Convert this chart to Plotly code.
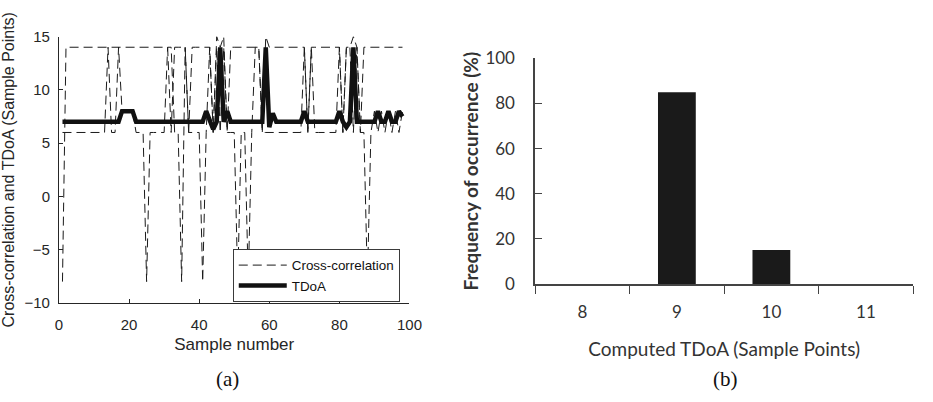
import plotly.graph_objects as go

# ---------------- data: panel (a) ----------------
samples = list(range(1, 99))

tdoa = [
    7, 7, 7, 7, 7, 7, 7, 7, 7, 7,
    7, 7, 7, 7, 7, 7, 7, 8, 8, 8,
    8, 7, 7, 7, 7, 7, 7, 7, 7, 7,
    7, 7, 7, 7, 7, 7, 7, 7, 7, 7,
    7, 8, 7, 6.3, 7, 14, 7, 8, 7, 7,
    7, 7, 7, 7, 7, 7, 7, 7, 14, 6.5,
    7.8, 7, 7, 7, 7, 7, 7, 7, 7, 8,
    7, 7, 7, 7, 7, 7, 7, 7, 7, 8,
    7, 6.5, 7, 14, 7, 7, 7, 7, 7, 7,
    8, 7, 7, 8, 7, 7, 8, 7.5,
]

cc_upper = [
    -8, 14, 14, 14, 14, 14, 14, 14, 14, 14,
    14, 14, 14, 14, 14, 14, 14, 14, 14, 14,
    14, 14, 14, 14, 14, 14, 14, 14, 14, 14,
    14, 6, 14, 14, 14, 14, 6, 14, 14, 14,
    14, 14, 14, 6, 15, 14, 15, 6, 14, 14,
    14, 14, 14, 14, 14, 14, 14, 6, 15, 14,
    14, 14, 14, 14, 14, 14, 14, 14, 14, 14,
    6, 14, 14, 14, 14, 14, 14, 14, 14, 14,
    6, 14, 14, 15, 14, 6, 14, 14, 14, 14,
    14, 14, 14, 14, 14, 14, 14, 14,
]

cc_lower = [
    6, 6, 6, 6, 6, 6, 6, 6, 6, 6,
    6, 6, 6, 14, 6, 6, 14, 8, 8, 8,
    8, 6, 6, 6, -8, 6, 6, 6, 6, 6,
    14, 14, 6, 6, -8, 14, 6, 6, 6, 6,
    -8, 6, 14, 6, 14, 6, 14, 6, 6, 6,
    -8, 6, 6, -8, 6, 14, 14, 6, 6, 6,
    6, 6, 6, 6, 6, 6, 6, 6, 6, 14,
    6, 14, 6, 6, 6, 6, 6, 6, 6, 14,
    6, 14, 14, 6, 14, 6, 6, -8, 6, 8,
    6, 8, 6, 8, 6, 8, 6, 8,
]

x_ticks_a = [0, 20, 40, 60, 80, 100]
y_ticks_a = [-10, -5, 0, 5, 10, 15]

# ---------------- data: panel (b) ----------------
tdoa_bins = ["8", "9", "10", "11"]
freq_pct = [0, 85, 15, 0]
y_ticks_b = [0, 20, 40, 60, 80, 100]

W, H = 933, 402
INK = "#1a1a1a"
AX = "#262626"
SANS = "Liberation Sans, Arial, sans-serif"
CAL = "Lato, Carlito, Calibri, sans-serif"
DASH = "9px,5px"

fig = go.Figure()

fig.add_trace(go.Scatter(
    x=samples, y=cc_upper, mode="lines", name="Cross-correlation",
    line=dict(color=INK, width=1, dash=DASH),
    xaxis="x", yaxis="y", legendrank=1,
))
fig.add_trace(go.Scatter(
    x=samples, y=cc_lower, mode="lines", name="Cross-correlation",
    line=dict(color=INK, width=1, dash=DASH),
    xaxis="x", yaxis="y", showlegend=False,
))
fig.add_trace(go.Scatter(
    x=samples, y=tdoa, mode="lines", name="TDoA",
    line=dict(color="#111111", width=4.5),
    xaxis="x", yaxis="y", legendrank=2,
))

fig.add_trace(go.Bar(
    x=tdoa_bins, y=freq_pct, width=0.4,
    marker=dict(color=INK, line=dict(width=0)),
    xaxis="x2", yaxis="y2", showlegend=False,
))

def px(v):
    return v / W

def py(v):
    return 1 - v / H

fig.update_layout(
    width=W, height=H,
    margin=dict(l=0, r=0, t=0, b=0),
    paper_bgcolor="white", plot_bgcolor="white",
    showlegend=True,
    legend=dict(
        x=px(233), y=py(251), xanchor="left", yanchor="top",
        bgcolor="white", bordercolor="#3a3a3a", borderwidth=1,
        font=dict(family=SANS, size=13.4, color="#111111"),
        tracegroupgap=0, itemwidth=48,
    ),
    xaxis=dict(
        domain=[px(56), px(413)], range=[0, 100],
        tickvals=x_ticks_a, ticks="inside", ticklen=4, tickcolor=AX,
        showline=True, linecolor=AX, linewidth=1,
        showgrid=False, zeroline=False,
        tickfont=dict(family=SANS, size=15, color=AX),
        ticklabelstandoff=8,
        title=dict(text="Sample number", font=dict(family=SANS, size=17, color=AX), standoff=6),
        anchor="y",
    ),
    yaxis=dict(
        domain=[py(308), py(27)], range=[-10, 15],
        tickvals=y_ticks_a, ticks="inside", ticklen=4, tickcolor=AX,
        showline=True, linecolor=AX, linewidth=1,
        showgrid=False, zeroline=False,
        tickfont=dict(family=SANS, size=15, color=AX),
        ticklabelstandoff=5,
        title=dict(text="Cross-correlation and TDoA (Sample Points)",
                   font=dict(family=SANS, size=16, color=AX), standoff=5),
        anchor="x",
    ),
    xaxis2=dict(
        domain=[px(541), px(926)], type="category",
        tickson="boundaries", ticks="outside", ticklen=8, tickcolor="#444444",
        showline=True, linecolor="#444444", linewidth=1.5,
        showgrid=False, zeroline=False,
        tickfont=dict(family=CAL, size=17, color="#333333"),
        ticklabelstandoff=12,
        title=dict(text="Computed TDoA (Sample Points)",
                   font=dict(family=CAL, size=19, color="#333333"), standoff=22),
        anchor="y2",
    ),
    yaxis2=dict(
        domain=[py(288), py(50)], range=[0, 100],
        tickvals=y_ticks_b, ticks="inside", ticklen=7, tickcolor="#444444",
        showline=True, linecolor="#444444", linewidth=1.5,
        showgrid=False, zeroline=False,
        tickfont=dict(family=CAL, size=17, color="#333333"),
        ticklabelstandoff=15,
        title=dict(text="<b>Frequency of occurrence (%)</b>",
                   font=dict(family=CAL, size=19, color="#333333"), standoff=2),
        anchor="x2",
    ),
    annotations=[
        dict(text="(a)", x=px(228), y=py(388), xref="paper", yref="paper",
             xanchor="center", yanchor="middle",
             showarrow=False, font=dict(family="Liberation Serif, serif", size=21, color="#111111")),
        dict(text="(b)", x=px(735), y=py(388), xref="paper", yref="paper",
             xanchor="center", yanchor="middle",
             showarrow=False, font=dict(family="Liberation Serif, serif", size=21, color="#111111")),
    ],
)

fig.write_html("out.html")
